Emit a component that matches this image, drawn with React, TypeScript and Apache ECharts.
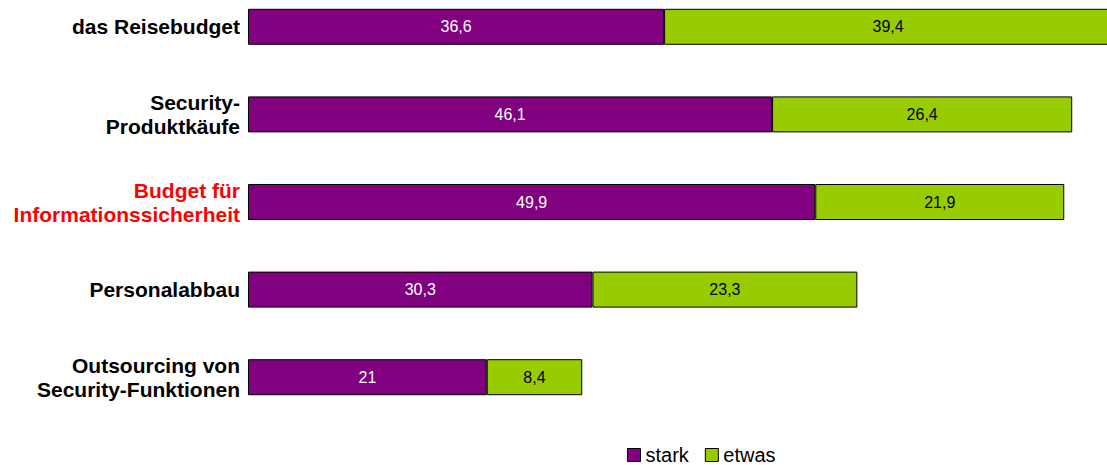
import React, { useEffect, useRef } from "react";
import * as echarts from "echarts";

const categories = [
  "das Reisebudget",
  "Security-\nProduktkäufe",
  "Budget für\nInformationssicherheit",
  "Personalabbau",
  "Outsourcing von\nSecurity-Funktionen",
];
const stark = [36.6, 46.1, 49.9, 30.3, 21];
const etwas = [39.4, 26.4, 21.9, 23.3, 8.4];
const highlight = "Budget für\nInformationssicherheit";

export default function App() {
  const ref = useRef<HTMLDivElement>(null);
  useEffect(() => {
    document.body.style.margin = "0";
    document.body.style.overflow = "hidden";
    const chart = echarts.init(ref.current!, null, { renderer: "svg" });
    const fmt = (p: any) => String(p.value).replace(".", ",");
    chart.setOption({
      animation: false,
      textStyle: { fontFamily: "Liberation Sans, Arial, sans-serif" },
      grid: { left: 248, top: 0, width: 864, height: 438 },
      xAxis: { type: "value", min: 0, max: 76, show: false },
      yAxis: {
        type: "category",
        inverse: true,
        data: categories,
        axisLine: { show: false },
        axisTick: { show: false },
        axisLabel: {
          margin: 8,
          fontSize: 21,
          fontWeight: "bold",
          lineHeight: 24,
          color: (v: string) => (v === highlight ? "#ff0000" : "#000000"),
        },
      },
      legend: {
        left: 627,
        top: 462,
        padding: 0,
        itemWidth: 13,
        itemHeight: 13,
        itemGap: 16,
        icon: "rect",
        textStyle: { fontSize: 20, color: "#000" },
        data: [
          { name: "stark", itemStyle: { borderColor: "#000", borderWidth: 1 } },
          { name: "etwas", itemStyle: { borderColor: "#000", borderWidth: 1 } },
        ],
      },
      series: [
        {
          name: "stark",
          type: "bar",
          stack: "s",
          data: stark,
          barWidth: 36,
          itemStyle: { color: "#800080", borderColor: "#000", borderWidth: 1 },
          label: { show: true, position: "inside", color: "#fff", fontSize: 16, formatter: fmt },
        },
        {
          name: "etwas",
          type: "bar",
          stack: "s",
          data: etwas,
          barWidth: 36,
          itemStyle: { color: "#99cc00", borderColor: "#000", borderWidth: 1 },
          label: { show: true, position: "inside", color: "#000", fontSize: 16, formatter: fmt },
        },
      ],
    });
    return () => chart.dispose();
  }, []);
  return <div ref={ref} style={{ width: 1120, height: 482, marginTop: -17 }} />;
}
